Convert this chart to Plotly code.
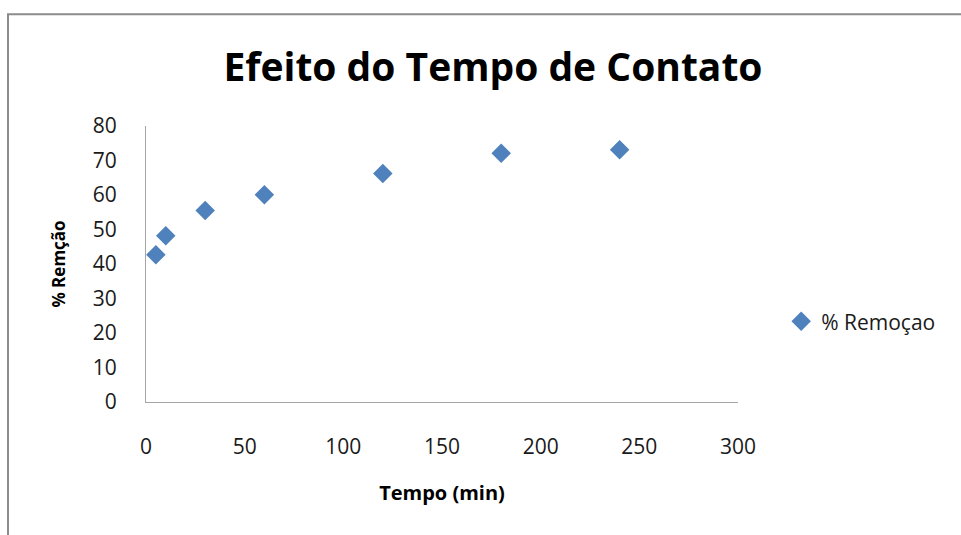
import plotly.graph_objects as go

# Contact time (min) vs. removal percentage
tempo = [5, 10, 30, 60, 120, 180, 240]
remocao = [42.7, 48.2, 55.5, 60.1, 66.2, 72.1, 73.1]

serie_nome = "% Remoçao"
titulo = "Efeito do Tempo de Contato"
titulo_x = "Tempo (min)"
titulo_y = "% Remção"

FONT = "'Open Sans', Lato, sans-serif"
AZUL = "#4F81BD"
EIXO = "#A6A6A6"
TEXTO = "#1a1a1a"

fig = go.Figure()
fig.add_trace(go.Scatter(
    x=tempo, y=remocao, mode="markers", name=serie_nome,
    marker=dict(symbol="diamond", size=15, color=AZUL, line=dict(width=0)),
))

fig.update_layout(
    width=961, height=535,
    margin=dict(l=146, r=223, t=126, b=133),
    paper_bgcolor="white", plot_bgcolor="white",
    font=dict(family=FONT, color=TEXTO),
    title=dict(text=f"<b>{titulo}</b>", x=0.513, xanchor="center",
               y=0.875, yanchor="middle",
               font=dict(size=39, family=FONT, color="black")),
    showlegend=True,
    legend=dict(x=1.073, xanchor="left", y=0.291, yanchor="middle",
                font=dict(size=21, family=FONT, color=TEXTO),
                bgcolor="rgba(0,0,0,0)", itemwidth=30),
    xaxis=dict(range=[0, 300], dtick=50, showgrid=False, zeroline=False,
               showline=True, linecolor=EIXO, linewidth=1.3,
               ticks="", ticklabelstandoff=26,
               tickfont=dict(size=21, family=FONT, color=TEXTO),
               title=dict(text=f"<b>{titulo_x}</b>", standoff=26,
                          font=dict(size=20, family=FONT, color="black"))),
    yaxis=dict(range=[0, 80], dtick=10, showgrid=False, zeroline=False,
               showline=True, linecolor=EIXO, linewidth=1.3,
               ticks="", ticklabelstandoff=24,
               tickfont=dict(size=21, family=FONT, color=TEXTO),
               title=dict(text=f"<b>{titulo_y}</b>", standoff=22,
                          font=dict(size=17, family=FONT, color="black"))),
)

# Chart frame (extends past the right and bottom edges of the page)
fig.add_shape(type="rect", xref="paper", yref="paper",
              x0=-138 / 592, x1=1.5, y0=-0.8, y1=1 + 112 / 276.5,
              line=dict(color="#8C8C8C", width=2), layer="below")

fig.write_html("out.html")
